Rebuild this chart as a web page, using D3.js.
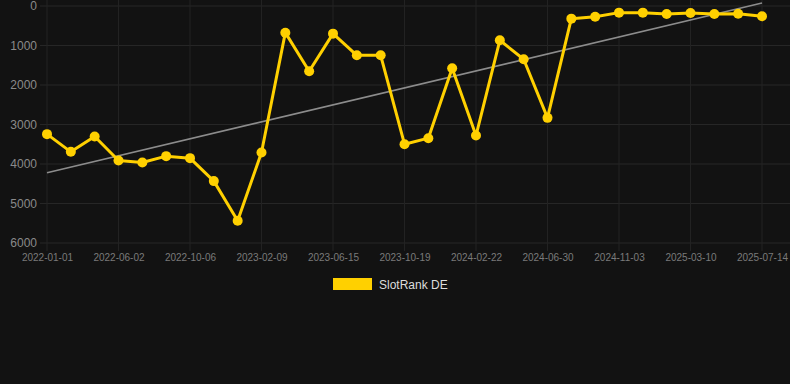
<!DOCTYPE html>
<html><head><meta charset="utf-8">
<script src="https://cdn.jsdelivr.net/npm/d3@7"></script>
<style>
html,body{margin:0;padding:0;background:#121212;}
svg{display:block;}
</style></head>
<body>
<svg id="c" width="790" height="384"></svg>
<script>
const dates = ["2022-01-01","2022-02-20","2022-04-11","2022-06-02","2022-07-14","2022-08-25","2022-10-06","2022-11-17","2022-12-29","2023-02-09","2023-03-23","2023-05-04","2023-06-15","2023-07-27","2023-09-07","2023-10-19","2023-11-30","2024-01-11","2024-02-22","2024-04-04","2024-05-17","2024-06-30","2024-08-11","2024-09-22","2024-11-03","2024-12-15","2025-01-26","2025-03-10","2025-04-21","2025-06-02","2025-07-14"];
const ranks = [3244,3692,3304,3911,3962,3801,3852,4433,5436,3709,675,1652,700,1248,1248,3498,3346,1576,3279,868,1349,2832,320,270,168,168,202,177,202,194,261];
const trendValues = [4220,-75];
const yTicks = [0,1000,2000,3000,4000,5000,6000];
const seriesName = "SlotRank DE";

const svg = d3.select("#c");
const x = d3.scalePoint().domain(dates).range([47,762]);
const y = d3.scaleLinear().domain([0,6000]).range([6,243]);
const tickDates = dates.filter((d,i)=>i%3===0);

// horizontal grid
svg.append("g").selectAll("line").data(yTicks).join("line")
  .attr("x1",40).attr("x2",790).attr("y1",d=>y(d)).attr("y2",d=>y(d))
  .attr("stroke","#262626").attr("stroke-width",1);
// vertical grid
svg.append("g").selectAll("line").data(tickDates).join("line")
  .attr("x1",d=>x(d)).attr("x2",d=>x(d)).attr("y1",0).attr("y2",251)
  .attr("stroke","#222").attr("stroke-width",1);

// y labels
const yAxis = d3.axisLeft(y).tickValues(yTicks).tickSize(0).tickPadding(0).tickFormat(d=>d);
const gy = svg.append("g").attr("transform","translate(37,0)").call(yAxis);
gy.select(".domain").remove();
gy.selectAll("text").attr("fill","#8a8a8a").attr("font-family","Arial, Liberation Sans, sans-serif").attr("font-size",12);

// x labels
const xAxis = d3.axisBottom(x).tickValues(tickDates).tickSize(0).tickPadding(0);
const gx = svg.append("g").attr("transform","translate(0,254)").call(xAxis);
gx.select(".domain").remove();
gx.selectAll("text").attr("fill","#7a7a7a").attr("font-family","Arial, Liberation Sans, sans-serif").attr("font-size",10);

// trend line
svg.append("line")
  .attr("x1",x(dates[0])).attr("x2",x(dates[dates.length-1]))
  .attr("y1",y(trendValues[0])).attr("y2",y(trendValues[1]))
  .attr("stroke","#8c8c8c").attr("stroke-width",1.6);

const data = dates.map((d,i)=>({d,v:ranks[i]}));
svg.append("path").datum(data)
  .attr("fill","none").attr("stroke","#FFD000").attr("stroke-width",3)
  .attr("stroke-linejoin","round")
  .attr("d",d3.line().x(p=>x(p.d)).y(p=>y(p.v)));
svg.append("g").selectAll("circle").data(data).join("circle")
  .attr("cx",p=>x(p.d)).attr("cy",p=>y(p.v)).attr("r",5)
  .attr("fill","#FFD000");

// legend
const lg = svg.append("g");
lg.append("rect").attr("x",333).attr("y",278).attr("width",39).attr("height",12).attr("fill","#FFD000");
lg.append("text").attr("x",379).attr("y",288.5).text(seriesName)
  .attr("fill","#dddddd").attr("font-family","Arial, Liberation Sans, sans-serif").attr("font-size",12);
</script>
</body></html>
